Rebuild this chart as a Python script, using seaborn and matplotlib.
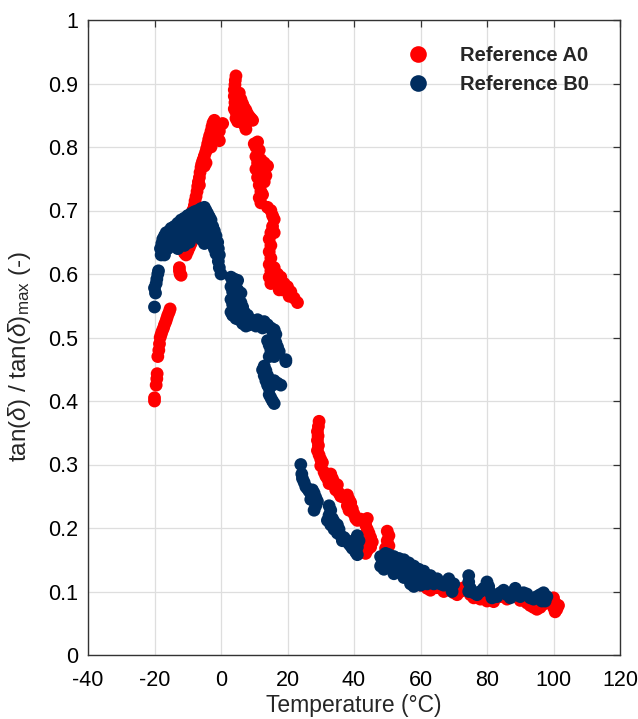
import matplotlib
matplotlib.use("Agg")
import matplotlib.pyplot as plt
import seaborn as sns
import pandas as pd

# ---------------- data ----------------
a0_points = [
    # low branch near -20
    (-20.0,0.400),(-20.0,0.405),(-19.5,0.425),(-19.3,0.435),(-19.2,0.443),
    (-19.0,0.470),(-18.7,0.480),(-18.5,0.490),(-18.3,0.500),(-18.0,0.505),(-17.7,0.510),
    (-17.3,0.515),(-17.0,0.520),(-16.6,0.525),(-16.3,0.530),(-16.0,0.535),(-15.6,0.540),(-15.3,0.545),
    (-12.5,0.610),(-12.3,0.600),(-12.0,0.598),(-12.5,0.605),
    (-11.0,0.633),(-10.5,0.630),(-10.0,0.636),(-9.5,0.642),(-9.0,0.648),(-8.7,0.653),
    # left peak
    (-8.5,0.700),(-8.0,0.708),(-7.8,0.715),(-7.5,0.722),(-7.2,0.730),(-7.0,0.738),(-6.8,0.745),
    (-6.5,0.752),(-6.3,0.760),(-6.0,0.768),(-5.8,0.773),(-5.5,0.778),(-5.2,0.782),(-5.0,0.786),
    (-4.6,0.792),(-4.3,0.798),(-4.0,0.805),(-3.7,0.812),(-3.4,0.818),(-3.0,0.825),(-2.7,0.832),
    (-2.4,0.838),(-2.0,0.842),(-1.5,0.835),(-1.0,0.830),(-0.5,0.825),(0.0,0.835),(-1.5,0.820),
    (-2.0,0.810),(-0.5,0.810),(-3.0,0.800),(-5.0,0.770),(-6.5,0.740),(-4.5,0.775),(0.5,0.837),
    # right peak
    (4.5,0.912),(4.3,0.905),(4.2,0.898),(4.0,0.890),(4.0,0.880),(4.2,0.870),(4.0,0.860),(4.5,0.855),
    (5.0,0.850),(5.0,0.878),(5.5,0.885),(5.5,0.870),(6.0,0.875),(6.0,0.860),(6.5,0.868),(7.0,0.862),
    (7.0,0.850),(7.5,0.858),(8.0,0.852),(8.5,0.848),(9.0,0.845),(9.5,0.842),(6.5,0.845),(7.0,0.835),
    (7.5,0.828),(5.0,0.840),(4.5,0.845),(8.0,0.840),
    # right descending branch
    (10.0,0.805),(10.5,0.800),(11.0,0.808),(11.5,0.795),(10.5,0.785),(11.0,0.775),(10.5,0.765),
    (11.0,0.752),(12.0,0.780),(12.5,0.770),(13.0,0.775),(13.5,0.768),(14.0,0.770),(13.5,0.755),
    (13.0,0.745),(12.0,0.760),(11.5,0.740),(12.0,0.730),(11.5,0.720),(12.0,0.712),(12.5,0.725),
    (14.0,0.705),(15.0,0.700),(15.5,0.692),(16.0,0.686),(15.5,0.675),(15.0,0.665),(16.0,0.665),
    (14.5,0.655),(15.0,0.645),(14.5,0.635),(15.0,0.625),(14.5,0.615),(15.0,0.605),(16.0,0.610),
    (17.0,0.600),(14.5,0.595),(15.0,0.585),(16.5,0.590),(18.0,0.595),(19.0,0.585),(18.5,0.575),
    (20.0,0.580),(21.0,0.572),(20.5,0.565),(22.0,0.562),(23.0,0.555),(17.5,0.575),
    # high temperature part
    (29.5,0.368),(29.3,0.360),(29.0,0.352),(29.2,0.345),(29.0,0.338),(29.3,0.330),(29.0,0.322),
    (29.5,0.315),(30.0,0.308),(30.5,0.303),(30.0,0.298),
    (31.0,0.288),(31.5,0.282),(32.0,0.278),(33.0,0.285),(33.5,0.278),(32.5,0.270),(34.0,0.272),
    (35.0,0.268),(34.5,0.260),(35.5,0.255),(36.0,0.250),(37.0,0.248),(38.0,0.252),(38.5,0.245),
    (39.0,0.240),(38.0,0.235),(38.5,0.228),(39.5,0.230),(40.0,0.222),(40.5,0.215),(41.0,0.212),
    (42.0,0.214),(43.0,0.212),(44.0,0.215),(43.5,0.205),(44.0,0.198),(44.5,0.192),(45.0,0.185),
    (44.5,0.178),(45.5,0.178),(45.0,0.170),(44.0,0.165),(43.5,0.160),(42.5,0.170),
    (50.0,0.195),(50.5,0.188),(50.0,0.180),(50.5,0.172),(49.5,0.168),
    (60.0,0.110),(62.0,0.105),(63.0,0.102),(65.0,0.106),(67.0,0.100),(68.0,0.104),(70.0,0.098),
    (71.0,0.095),(72.0,0.100),(73.0,0.106),(75.0,0.095),(76.0,0.090),(78.0,0.088),(80.0,0.085),
    (82.0,0.084),(84.0,0.092),(86.0,0.088),(88.0,0.092),(90.0,0.086),(92.0,0.082),(93.0,0.078),
    (94.0,0.075),(95.0,0.072),(96.0,0.075),(97.0,0.080),(99.0,0.086),(100.0,0.090),(100.5,0.082),
    (100.0,0.075),(101.0,0.072),(100.5,0.068),(101.5,0.078),
]

b0_points = [
    # left blob
    (-20.0,0.548),(-20.0,0.578),(-19.7,0.570),(-19.5,0.585),(-19.3,0.592),(-19.0,0.600),(-18.8,0.605),
    (-18.0,0.630),(-18.2,0.640),(-17.8,0.648),(-17.5,0.655),(-17.0,0.660),(-16.5,0.665),(-16.0,0.655),
    (-15.5,0.668),(-15.0,0.672),(-14.5,0.665),(-14.0,0.675),(-13.5,0.668),(-13.0,0.680),(-12.5,0.672),
    (-12.0,0.685),(-11.5,0.678),(-11.0,0.688),(-10.5,0.680),(-10.0,0.692),(-9.5,0.685),(-9.0,0.695),
    (-8.5,0.688),(-8.0,0.698),(-7.5,0.690),(-7.0,0.700),(-6.5,0.693),(-6.0,0.703),(-5.5,0.698),
    (-5.0,0.705),(-4.5,0.700),(-4.0,0.695),(-3.5,0.690),(-3.0,0.685),(-2.5,0.675),(-2.0,0.668),
    (-1.5,0.660),(-1.0,0.650),(-0.8,0.640),(-0.5,0.630),(-0.8,0.620),(-0.5,0.610),(0.0,0.600),
    (-17.5,0.635),(-17.0,0.630),(-16.0,0.640),(-15.0,0.648),(-14.0,0.650),(-13.0,0.655),(-12.0,0.660),
    (-11.0,0.665),(-10.0,0.670),(-9.0,0.672),(-8.0,0.675),(-7.0,0.678),(-6.0,0.680),(-5.0,0.682),
    (-4.0,0.680),(-3.0,0.670),(-2.0,0.655),(-7.0,0.662),(-6.0,0.655),(-5.0,0.648),(-8.0,0.660),
    (-4.5,0.665),(-15.5,0.655),(-13.0,0.640),(-11.0,0.645),(-9.5,0.650),(-3.0,0.650),(-2.0,0.640),
    (-1.5,0.632),(-12.0,0.670),(-14.0,0.662),
    # middle cluster
    (3.0,0.595),(3.5,0.590),(4.0,0.592),(4.5,0.585),(5.0,0.590),(3.0,0.580),(3.5,0.572),(4.0,0.565),
    (5.0,0.575),(5.5,0.568),(6.0,0.570),(3.0,0.560),(3.5,0.552),(3.0,0.540),(3.5,0.535),(4.0,0.545),
    (5.0,0.550),(6.0,0.555),(6.5,0.548),(4.5,0.530),(5.5,0.528),(6.0,0.538),(7.0,0.540),(7.5,0.530),
    (6.5,0.522),(7.5,0.518),(8.5,0.520),(9.0,0.528),(8.0,0.535),(10.0,0.525),(10.5,0.518),(11.0,0.528),
    (12.0,0.522),(12.5,0.515),(13.0,0.525),(13.5,0.518),(14.0,0.520),(15.0,0.515),(15.5,0.510),
    (16.0,0.512),(16.5,0.505),(14.0,0.495),(14.5,0.488),(15.0,0.480),(14.5,0.470),(15.5,0.475),
    (16.5,0.492),(17.0,0.485),(17.5,0.478),(16.0,0.470),(19.5,0.462),(13.0,0.455),(13.5,0.448),
    (14.0,0.440),(13.5,0.432),(14.0,0.425),(14.5,0.420),(15.0,0.430),(15.5,0.425),(16.0,0.432),
    (17.0,0.428),(18.0,0.425),(14.5,0.410),(15.0,0.405),(15.5,0.400),(16.0,0.396),(13.0,0.440),
    (19.5,0.465),(12.5,0.449),
    # high temperature part
    (24.0,0.300),(24.3,0.285),(24.5,0.278),(25.0,0.272),(25.5,0.265),(26.0,0.262),(26.5,0.258),
    (27.0,0.255),(27.5,0.260),(28.0,0.255),(28.5,0.248),(29.0,0.242),(28.5,0.235),(28.0,0.228),
    (27.0,0.245),
    (32.5,0.235),(33.0,0.228),(32.5,0.220),(32.0,0.212),(33.0,0.205),(33.5,0.215),(34.0,0.210),
    (35.0,0.205),(34.0,0.198),(35.0,0.192),(35.5,0.198),(36.0,0.188),(37.0,0.185),(36.5,0.180),
    (38.0,0.180),(38.5,0.175),(39.0,0.172),(39.5,0.168),(40.0,0.175),(40.5,0.182),(41.0,0.188),
    (41.5,0.180),(41.0,0.170),(40.5,0.162),(41.0,0.158),
    (48.0,0.155),(48.5,0.148),(48.0,0.140),(49.0,0.135),(49.5,0.160),(50.5,0.158),(51.0,0.150),
    (50.0,0.145),(51.5,0.142),(52.0,0.155),(52.5,0.148),(53.0,0.138),(53.5,0.152),(54.0,0.145),
    (54.5,0.135),(55.0,0.150),(55.5,0.142),(56.0,0.130),(56.5,0.145),(57.0,0.138),(57.5,0.125),
    (58.0,0.140),(58.5,0.132),(59.0,0.122),(59.5,0.135),(60.0,0.128),(60.5,0.118),(61.0,0.132),
    (61.5,0.125),(62.0,0.115),(63.0,0.125),(63.5,0.118),(64.0,0.112),(65.0,0.120),(66.0,0.112),
    (67.0,0.110),(68.0,0.115),(68.5,0.120),(69.0,0.108),(69.5,0.100),(70.0,0.112),(55.0,0.122),
    (57.0,0.112),(52.0,0.128),(58.0,0.108),(60.0,0.110),(62.0,0.112),
    (74.5,0.125),(74.5,0.115),(75.0,0.105),(74.5,0.100),(76.0,0.098),(77.0,0.095),(78.0,0.100),
    (79.0,0.105),(80.0,0.115),(80.5,0.108),(81.0,0.098),(81.5,0.090),(82.0,0.095),(83.0,0.092),
    (84.0,0.098),(85.0,0.102),(86.0,0.095),(87.0,0.090),(88.0,0.100),(88.5,0.105),(89.0,0.095),
    (90.0,0.092),(91.0,0.098),(92.0,0.096),(93.0,0.090),(94.0,0.088),(95.0,0.092),(96.0,0.095),
    (97.0,0.098),(98.0,0.092),(97.5,0.085),(96.5,0.085),
]

series_names = ["Reference A0", "Reference B0"]
series_colors = ["#ff0000", "#002d5f"]
x_ticks = [-40, -20, 0, 20, 40, 60, 80, 100, 120]
y_ticks = [0, 0.1, 0.2, 0.3, 0.4, 0.5, 0.6, 0.7, 0.8, 0.9, 1]
y_tick_labels = ["0", "0.1", "0.2", "0.3", "0.4", "0.5", "0.6", "0.7", "0.8", "0.9", "1"]

# ---------------- build table ----------------
rows = []
for name, pts in zip(series_names, [a0_points, b0_points]):
    for x, y in pts:
        rows.append({"Temperature": x, "ratio": y, "series": name})
df = pd.DataFrame(rows)

sns.set_theme(style="white")
plt.rcParams["font.family"] = ["Liberation Sans", "DejaVu Sans"]
plt.rcParams["mathtext.fontset"] = "custom"
plt.rcParams["mathtext.rm"] = "Liberation Sans"
plt.rcParams["mathtext.it"] = "Liberation Sans:italic"
plt.rcParams["axes.unicode_minus"] = False

fig = plt.figure(figsize=(6.38, 7.19), dpi=100)
ax = fig.add_axes([88/638, 1-655/719, (620-88)/638, (655-20)/719])

sns.scatterplot(data=df, x="Temperature", y="ratio", hue="series",
                palette=dict(zip(series_names, series_colors)),
                s=85, linewidth=0, edgecolor="none", ax=ax, legend=True, zorder=3)

ax.set_xlim(-40, 120)
ax.set_ylim(0, 1)
ax.set_xticks(x_ticks)
ax.set_yticks(y_ticks)
ax.set_yticklabels(y_tick_labels)
ax.grid(True, color="#dedede", linewidth=0.9, zorder=0)
ax.set_axisbelow(True)
for sp in ax.spines.values():
    sp.set_color("#333333")
    sp.set_linewidth(1.0)
ax.tick_params(direction="in", length=5, width=0.9, colors="#333333",
               top=True, right=True, labelsize=15.5, labelcolor="black")
ax.tick_params(axis="x", pad=11)
ax.tick_params(axis="y", pad=7)

ax.set_xlabel("Temperature (°C)", fontsize=16.5, labelpad=2)
ax.set_ylabel(r"tan($\delta$) / tan($\delta$)$_{\mathrm{max}}$ (-)", fontsize=17.5)
ax.yaxis.set_label_coords(-0.103, 0.47)

handles, labels = ax.get_legend_handles_labels()
leg = ax.legend(handles, labels, loc="upper right", bbox_to_anchor=(0.975, 0.987),
                frameon=False, markerscale=1.3, handletextpad=1.05,
                labelspacing=0.5, prop={"weight": "bold", "size": 14.5})

fig.savefig("out.png", dpi=100)
